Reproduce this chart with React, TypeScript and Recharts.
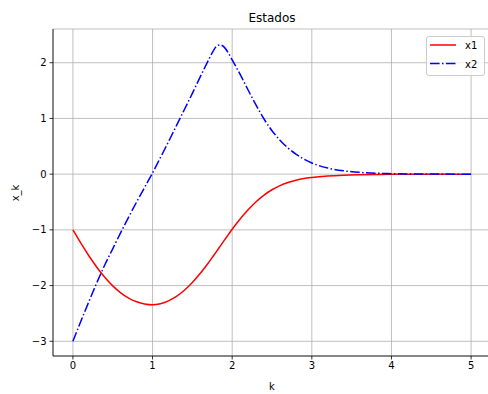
import { LineChart, Line, XAxis, YAxis, CartesianGrid } from 'recharts'

const kValues = [
  0, 0.1, 0.2, 0.3, 0.4, 0.5, 0.6, 0.7, 0.8, 0.9, 1.0, 1.1, 1.2, 1.3, 1.4, 1.5, 1.6, 1.7,
  1.75, 1.8, 1.85, 1.9, 1.95, 2.0, 2.1, 2.2, 2.3, 2.4, 2.5, 2.6, 2.7, 2.8, 2.9, 3.0,
  3.2, 3.4, 3.6, 3.8, 4.0, 4.5, 5.0,
]

const x1Values = [
  -1.0, -1.24, -1.465, -1.67, -1.85, -2.005, -2.13, -2.225, -2.29, -2.33, -2.345, -2.325,
  -2.275, -2.195, -2.085, -1.945, -1.78, -1.595, -1.495, -1.395, -1.292, -1.19, -1.09, -0.99,
  -0.805, -0.64, -0.495, -0.375, -0.28, -0.205, -0.15, -0.11, -0.08, -0.06, -0.033, -0.018,
  -0.01, -0.005, -0.002, 0, 0,
]

const x2Values = [
  -3.0, -2.64, -2.29, -1.95, -1.63, -1.34, -1.05, -0.77, -0.5, -0.24, 0.02, 0.3, 0.58, 0.87,
  1.16, 1.45, 1.75, 2.04, 2.18, 2.29, 2.32, 2.28, 2.18, 2.05, 1.79, 1.51, 1.24, 0.99, 0.78,
  0.61, 0.47, 0.36, 0.27, 0.2, 0.11, 0.06, 0.032, 0.017, 0.009, 0.001, 0,
]

const xTicks = [0, 1, 2, 3, 4, 5]
const yTicks = [-3, -2, -1, 0, 1, 2]

const data = kValues.map((k, i) => ({ k, x1: x1Values[i], x2: x2Values[i] }))

const FONT = '"DejaVu Sans", sans-serif'
const DASHDOT = '9.6 2.4 1.5 2.4'
const minus = (v: number) => String(v).replace('-', '\u2212')

function LegendBox() {
  return (
    <div
      style={{
        position: 'absolute',
        left: 426,
        top: 36,
        width: 59,
        height: 40,
        boxSizing: 'border-box',
        background: 'rgba(255,255,255,0.8)',
        border: '1px solid #cccccc',
        borderRadius: 3,
      }}
    >
      <svg width={59} height={40} style={{ position: 'absolute', left: -1, top: -1 }}>
        <line x1={4} x2={30} y1={9} y2={9} stroke="#ff0000" strokeWidth={1.5} />
        <line x1={4} x2={30} y1={27.5} y2={27.5} stroke="#0000ff" strokeWidth={1.5} strokeDasharray={DASHDOT} />
        <text x={39} y={13} fontSize={10} fontFamily={FONT} fill="#000">x1</text>
        <text x={39} y={31.5} fontSize={10} fontFamily={FONT} fill="#000">x2</text>
      </svg>
    </div>
  )
}

export default function App() {
  return (
    <div
      style={{
        position: 'absolute',
        left: 0,
        top: 0,
        width: 488,
        height: 394,
        overflow: 'hidden',
        background: '#fff',
        fontFamily: FONT,
      }}
    >
      <LineChart width={491} height={394} data={data} margin={{ top: 29, right: 0, left: 0, bottom: 0 }}>
        <CartesianGrid stroke="#b0b0b0" strokeWidth={0.8} />
        <XAxis
          dataKey="k"
          type="number"
          domain={[-0.25, 5.25]}
          ticks={xTicks}
          allowDataOverflow
          height={38}
          tickSize={3.5}
          tickMargin={2}
          tick={{ fill: '#000', fontSize: 10, fontFamily: FONT }}
          tickLine={{ stroke: '#000', strokeWidth: 0.8 }}
          axisLine={{ stroke: '#000', strokeWidth: 0.8 }}
          tickFormatter={minus}
        />
        <XAxis
          xAxisId="top"
          orientation="top"
          dataKey="k"
          type="number"
          domain={[-0.25, 5.25]}
          height={0}
          tick={false}
          tickLine={false}
          axisLine={{ stroke: '#000', strokeWidth: 0.8 }}
        />
        <YAxis
          type="number"
          domain={[-3.264, 2.605]}
          ticks={yTicks}
          allowDataOverflow
          width={53}
          tickSize={3.5}
          tickMargin={3}
          tick={{ fill: '#000', fontSize: 10, fontFamily: FONT }}
          tickLine={{ stroke: '#000', strokeWidth: 0.8 }}
          axisLine={{ stroke: '#000', strokeWidth: 0.8 }}
          tickFormatter={minus}
        />
        <Line
          dataKey="x1"
          type="monotone"
          stroke="#ff0000"
          strokeWidth={1.5}
          dot={false}
          activeDot={false}
          isAnimationActive={false}
        />
        <Line
          dataKey="x2"
          type="monotone"
          stroke="#0000ff"
          strokeWidth={1.5}
          strokeDasharray={DASHDOT}
          dot={false}
          activeDot={false}
          isAnimationActive={false}
        />
      </LineChart>
      <LegendBox />
      <svg
        width={488}
        height={394}
        style={{ position: 'absolute', left: 0, top: 0, pointerEvents: 'none' }}
      >
        <text x={272} y={22} textAnchor="middle" fontSize={12} fontFamily={FONT} fill="#000">
          Estados
        </text>
        <text x={272} y={390} textAnchor="middle" fontSize={10} fontFamily={FONT} fill="#000">
          k
        </text>
        <text
          x={19}
          y={193}
          textAnchor="middle"
          fontSize={10}
          fontFamily={FONT}
          fill="#000"
          transform="rotate(-90 19 193)"
        >
          x_k
        </text>
      </svg>
    </div>
  )
}
